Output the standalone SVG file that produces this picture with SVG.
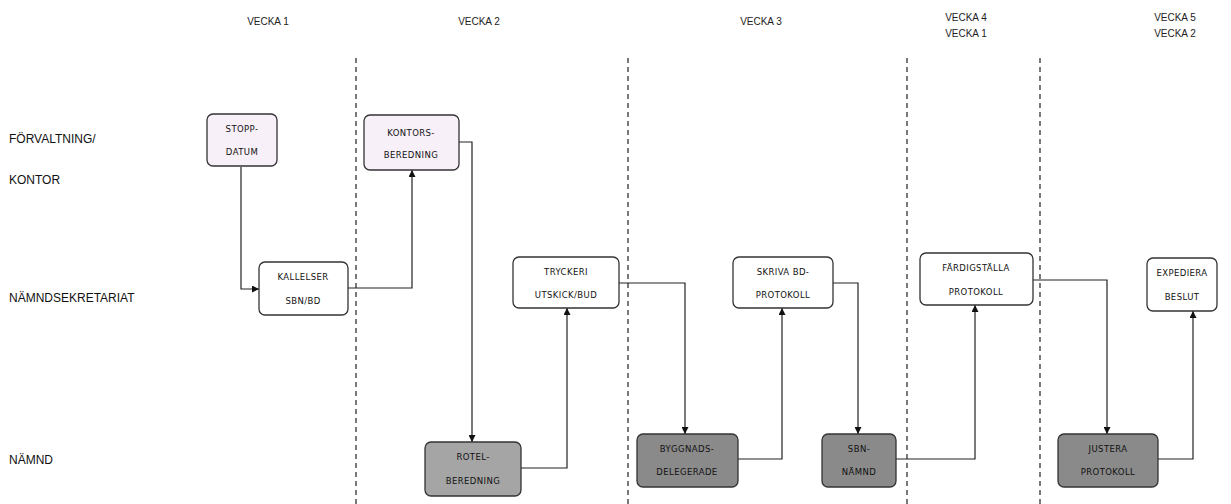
<svg xmlns="http://www.w3.org/2000/svg" width="1231" height="504" viewBox="0 0 1231 504">
<style>
.lbl{font-family:"Liberation Sans",Arial,sans-serif;font-size:12px;fill:#111}
.hdr{font-family:"Liberation Sans",Arial,sans-serif;font-size:10px;fill:#222;text-anchor:middle}
.nt{font-family:"DejaVu Sans","Liberation Sans",sans-serif;font-size:8.5px;fill:#111;text-anchor:middle;letter-spacing:0.4px}
.box{stroke:#333;stroke-width:1.3}
.w{fill:#ffffff}
.p{fill:#f8f0f8}
.g1{fill:#a5a5a5}
.g2{fill:#8a8a8a}
.dash{stroke:#222;stroke-width:1.2;stroke-dasharray:5 4;fill:none}
.c{stroke:#222;stroke-width:1.2;fill:none;marker-end:url(#ah)}
</style>
<defs>
<marker id="ah" viewBox="0 0 10 10" refX="10" refY="5" markerWidth="7" markerHeight="7" markerUnits="userSpaceOnUse" orient="auto">
<path d="M0,0 L10,5 L0,10 z" fill="#111"/>
</marker>
</defs>
<g id="headers">
<text class="hdr" x="268" y="25">VECKA 1</text>
<text class="hdr" x="479" y="25">VECKA 2</text>
<text class="hdr" x="761" y="25">VECKA 3</text>
<text class="hdr" x="966" y="21">VECKA 4</text>
<text class="hdr" x="966" y="37">VECKA 1</text>
<text class="hdr" x="1175" y="21">VECKA 5</text>
<text class="hdr" x="1175" y="37">VECKA 2</text>
</g>
<g id="rows">
<text class="lbl" x="9" y="143">FÖRVALTNING/</text>
<text class="lbl" x="9" y="184">KONTOR</text>
<text class="lbl" x="9" y="302">NÄMNDSEKRETARIAT</text>
<text class="lbl" x="9" y="464">NÄMND</text>
</g>
<g id="dividers">
<line class="dash" x1="356" y1="58" x2="356" y2="504"/>
<line class="dash" x1="628" y1="58" x2="628" y2="504"/>
<line class="dash" x1="907" y1="58" x2="907" y2="504"/>
<line class="dash" x1="1040" y1="58" x2="1040" y2="504"/>
</g>
<g id="connectors">
<path class="c" d="M241,167 V289 H259"/>
<path class="c" d="M348,288 H412 V170"/>
<path class="c" d="M459,142 H472 V442"/>
<path class="c" d="M521,468 H567 V308"/>
<path class="c" d="M619,283 H685 V434"/>
<path class="c" d="M738,459 H782 V308"/>
<path class="c" d="M833,283 H858 V434"/>
<path class="c" d="M896,459 H975 V305"/>
<path class="c" d="M1033,280 H1107 V434"/>
<path class="c" d="M1158,459 H1193 V311"/>
</g>
<g id="n-stopp">
<rect class="box p" x="207" y="114" width="70" height="52" rx="6"/>
<text class="nt" x="242" y="132">STOPP-</text>
<text class="nt" x="242" y="155">DATUM</text>
</g>
<g id="n-kontors">
<rect class="box p" x="364" y="115" width="95" height="55" rx="6"/>
<text class="nt" x="411" y="136">KONTORS-</text>
<text class="nt" x="411" y="158">BEREDNING</text>
</g>
<g id="n-kallelser">
<rect class="box w" x="259" y="262" width="89" height="53" rx="6"/>
<text class="nt" x="303" y="280">KALLELSER</text>
<text class="nt" x="303" y="304">SBN/BD</text>
</g>
<g id="n-tryckeri">
<rect class="box w" x="513" y="257" width="106" height="51" rx="6"/>
<text class="nt" x="566" y="275">TRYCKERI</text>
<text class="nt" x="566" y="298">UTSKICK/BUD</text>
</g>
<g id="n-skriva">
<rect class="box w" x="733" y="257" width="100" height="51" rx="6"/>
<text class="nt" x="783" y="275">SKRIVA BD-</text>
<text class="nt" x="783" y="298">PROTOKOLL</text>
</g>
<g id="n-fardig">
<rect class="box w" x="920" y="253" width="113" height="52" rx="6"/>
<text class="nt" x="976" y="271">FÄRDIGSTÄLLA</text>
<text class="nt" x="976" y="295">PROTOKOLL</text>
</g>
<g id="n-expediera">
<rect class="box w" x="1147" y="258" width="70" height="53" rx="6"/>
<text class="nt" x="1182" y="276">EXPEDIERA</text>
<text class="nt" x="1182" y="300">BESLUT</text>
</g>
<g id="n-rotel">
<rect class="box g1" x="425" y="442" width="96" height="54" rx="6"/>
<text class="nt" x="473" y="460">ROTEL-</text>
<text class="nt" x="473" y="484">BEREDNING</text>
</g>
<g id="n-byggnads">
<rect class="box g2" x="637" y="434" width="101" height="53" rx="6"/>
<text class="nt" x="687" y="452">BYGGNADS-</text>
<text class="nt" x="687" y="475">DELEGERADE</text>
</g>
<g id="n-sbn">
<rect class="box g2" x="822" y="434" width="74" height="53" rx="6"/>
<text class="nt" x="859" y="452">SBN-</text>
<text class="nt" x="859" y="475">NÄMND</text>
</g>
<g id="n-justera">
<rect class="box g2" x="1058" y="434" width="100" height="53" rx="6"/>
<text class="nt" x="1108" y="452">JUSTERA</text>
<text class="nt" x="1108" y="475">PROTOKOLL</text>
</g>
</svg>
